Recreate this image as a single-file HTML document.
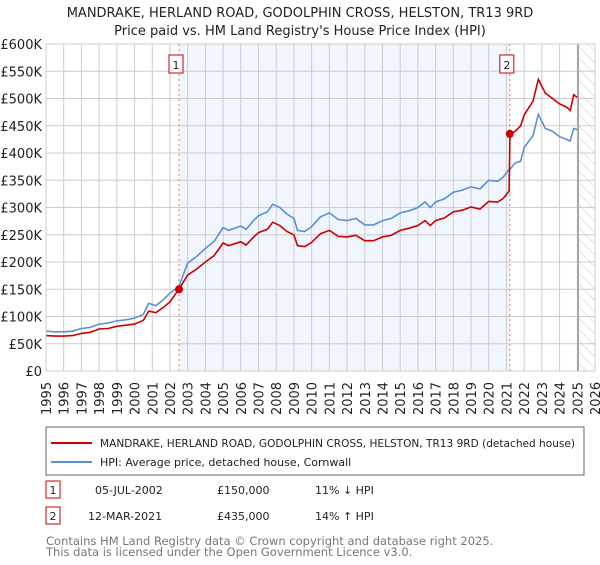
<!DOCTYPE html>
<html><head><meta charset="utf-8"><style>
body{margin:0;background:#fff;font-family:"Liberation Sans","DejaVu Sans",sans-serif;}
svg text{font-family:"DejaVu Sans","Liberation Sans",sans-serif;}
</style></head><body>
<svg id="chart" width="600" height="560" xmlns="http://www.w3.org/2000/svg">
<defs>
<pattern id="hatch" width="8" height="8" patternUnits="userSpaceOnUse" patternTransform="rotate(-45)">
<line x1="0" y1="0" x2="0" y2="8" stroke="#c8c8c8" stroke-width="1"/>
</pattern>
</defs>
<text x="300" y="17" text-anchor="middle" font-size="13" fill="#222">MANDRAKE, HERLAND ROAD, GODOLPHIN CROSS, HELSTON, TR13 9RD</text>
<text x="300" y="35" text-anchor="middle" font-size="13" fill="#222">Price paid vs. HM Land Registry's House Price Index (HPI)</text>
<g id="plot"></g>
<rect x="46" y="427" width="538" height="48" fill="none" stroke="#666"/>
<line x1="51" y1="443" x2="92" y2="443" stroke="#cc0000" stroke-width="2"/>
<text x="100" y="447" font-size="11" textLength="475" lengthAdjust="spacingAndGlyphs" fill="#222">MANDRAKE, HERLAND ROAD, GODOLPHIN CROSS, HELSTON, TR13 9RD (detached house)</text>
<line x1="51" y1="462" x2="92" y2="462" stroke="#5b8fd4" stroke-width="2"/>
<text x="100" y="466" font-size="11" fill="#222">HPI: Average price, detached house, Cornwall</text>
<g>
<rect x="46" y="481" width="14" height="17" fill="#fff" stroke="#cc0000"/>
<text x="53" y="494" text-anchor="middle" font-size="11" fill="#222">1</text>
<text x="95" y="494" font-size="11" fill="#222">05-JUL-2002</text>
<text x="217" y="494" font-size="11" fill="#222">£150,000</text>
<text x="315" y="494" font-size="11" fill="#222">11% ↓ HPI</text>
</g>
<g>
<rect x="46" y="507" width="14" height="17" fill="#fff" stroke="#cc0000"/>
<text x="53" y="520" text-anchor="middle" font-size="11" fill="#222">2</text>
<text x="88" y="520" font-size="11" fill="#222">12-MAR-2021</text>
<text x="217" y="520" font-size="11" fill="#222">£435,000</text>
<text x="315" y="520" font-size="11" fill="#222">14% ↑ HPI</text>
</g>
<text x="46" y="545" font-size="11.5" fill="#777">Contains HM Land Registry data © Crown copyright and database right 2025.</text>
<text x="46" y="556" font-size="11.5" fill="#777">This data is licensed under the Open Government Licence v3.0.</text>
</svg>
<script>
const years=[1995,1995.5,1996,1996.5,1997,1997.5,1998,1998.5,1999,1999.5,2000,2000.5,2000.8,2001.2,2001.6,2002,2002.5,2003,2003.5,2004,2004.5,2005,2005.3,2006,2006.3,2006.7,2007,2007.5,2007.8,2008.2,2008.6,2009,2009.2,2009.6,2010,2010.5,2011,2011.5,2012,2012.5,2013,2013.5,2014,2014.5,2015,2015.5,2016,2016.4,2016.7,2017,2017.5,2018,2018.5,2019,2019.5,2020,2020.5,2020.8,2021.15,2021.2,2021.5,2021.8,2022,2022.5,2022.8,2023.2,2023.6,2024,2024.4,2024.6,2024.8,2025.0];
const hpiValues=[73,72,72,73,78,80,86,88,92,94,97,104,124,120,130,143,155,198,210,225,238,263,258,266,260,275,285,292,306,300,288,280,258,256,265,283,290,278,276,280,268,268,276,280,290,294,300,310,300,310,316,328,332,338,334,350,348,355,370,370,382,385,410,432,471,445,440,430,425,422,445,443];
const priceValues=[65,64,64,65,69,71,77,78,82,84,86,93,110,107,116,127,150,176,187,200,212,235,230,237,231,245,254,260,273,267,256,250,230,228,236,252,258,247,246,249,239,239,246,249,258,262,267,276,267,276,281,292,295,301,297,311,310,316,330,435,440,450,470,495,535,510,500,490,484,478,507,502];
const yTicks=[0,50,100,150,200,250,300,350,400,450,500,550,600];
const yTickLabels=["£0","£50K","£100K","£150K","£200K","£250K","£300K","£350K","£400K","£450K","£500K","£550K","£600K"];
const xTicks=[1995,1996,1997,1998,1999,2000,2001,2002,2003,2004,2005,2006,2007,2008,2009,2010,2011,2012,2013,2014,2015,2016,2017,2018,2019,2020,2021,2022,2023,2024,2025,2026];
const sales=[{t:2002.51,v:150,label:"1"},{t:2021.19,v:435,label:"2"}];
const X0=46,X1=595,Y0=371,Y1=44;
const xs=t=>X0+(t-1995)/31*(X1-X0);
const ys=v=>Y0-v/600*(Y0-Y1);
const NS="http://www.w3.org/2000/svg";
const g=document.getElementById('plot');
function mk(tag,attrs){const e=document.createElementNS(NS,tag);for(const k in attrs)e.setAttribute(k,attrs[k]);g.appendChild(e);return e;}
let e;
e=mk('rect',{x:xs(sales[0].t),y:Y1,width:xs(sales[1].t)-xs(sales[0].t),height:Y0-Y1,fill:'#f1f5fd'});


e=mk('rect',{x:xs(2025.05),y:Y1,width:X1-xs(2025.05),height:Y0-Y1,fill:'url(#hatch)'});


yTicks.forEach((v,i)=>{
 e=mk('line',{x1:X0,x2:X1,y1:ys(v),y2:ys(v),stroke:'#ccc','stroke-width':1});
 
 
 e=mk('text',{x:X0-4,y:ys(v)+5,'text-anchor':'end','font-size':13,fill:'#222'});
 e.textContent=yTickLabels[i];
 
 
});
xTicks.forEach(t=>{
 e=mk('line',{x1:xs(t),x2:xs(t),y1:Y1,y2:Y0,stroke:'#ccc','stroke-width':1});
 
 
 const x=xs(t)+5,y=415;
 e=mk('text',{x:x,y:y,transform:`rotate(-90 ${x} ${y})`,'font-size':13,fill:'#222'});
 e.textContent=String(t);
 
 
});
e=mk('line',{x1:xs(2025.05),x2:xs(2025.05),y1:Y1,y2:Y0,stroke:'#999','stroke-width':1.5});


sales.forEach(s=>{
 e=mk('line',{x1:xs(s.t),x2:xs(s.t),y1:Y1,y2:Y0,stroke:'#f07070','stroke-width':1,'stroke-dasharray':'2,3'});
 
 
});
const pts=(vals)=>years.map((t,i)=>xs(t).toFixed(1)+','+ys(vals[i]).toFixed(1)).join(' ');
e=mk('polyline',{points:pts(hpiValues),fill:'none',stroke:'#5b8fd4','stroke-width':1.6});


e=mk('polyline',{points:pts(priceValues),fill:'none',stroke:'#cc0000','stroke-width':1.6});


sales.forEach(s=>{
 e=mk('circle',{cx:xs(s.t),cy:ys(s.v),r:4,fill:'#cc0000'});
 
 
 e=mk('rect',{x:xs(s.t)-10,y:55,width:14,height:18,fill:'#fff',stroke:'#cc0000'});
 
 
 e=mk('text',{x:xs(s.t)-3,y:69,'text-anchor':'middle','font-size':11,fill:'#222'});
 e.textContent=s.label;
 
 
});
e=mk('rect',{x:X0,y:Y1,width:X1-X0,height:Y0-Y1,fill:'none',stroke:'#ccc'});


</script>
</body></html>
